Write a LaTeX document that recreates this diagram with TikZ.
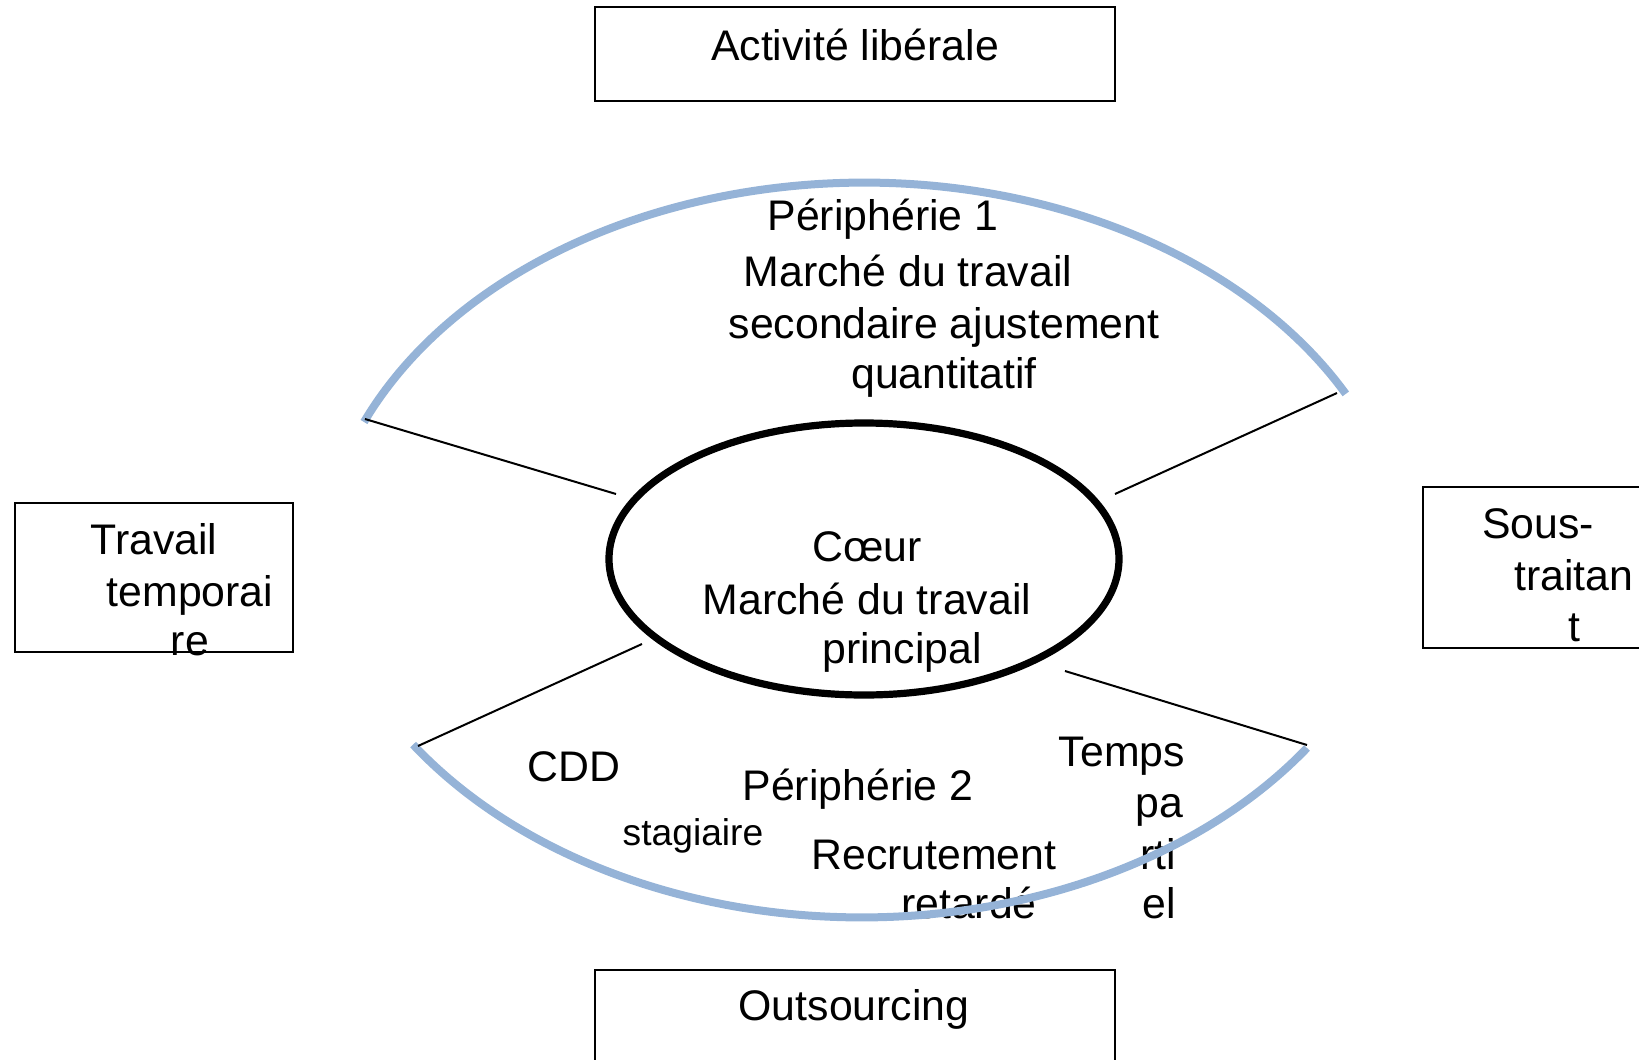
\documentclass[tikz,border=0pt]{standalone}
\usepackage{fontspec}
\setmainfont{Liberation Sans}
\usepackage{xcolor}
\usetikzlibrary{positioning,shapes.geometric}
\definecolor{ink}{HTML}{000000}
\definecolor{arcblue}{HTML}{95B3D7}

\tikzset{
  lbl/.style={inner sep=0pt, anchor=base, text=ink, font=\fontsize{21.4}{26}\selectfont},
  smalllbl/.style={lbl, font=\fontsize{18.6}{22}\selectfont},
  frame/.style={draw=ink, line width=0.85pt, inner sep=0pt},
  orbit/.style={draw=arcblue, line width=4pt},
  spoke/.style={draw=ink, line width=1pt},
}

\begin{document}
\begin{tikzpicture}[x=0.5pt, y=-0.5pt]
  \useasboundingbox (0,0) rectangle (1639,1060);

  % the four boxes
  \node[frame, minimum width=260pt, minimum height=47pt] (liberal) at (855,54) {};
  \node[frame, minimum width=139pt, minimum height=74.5pt] (interim) at (154,577.5) {};
  \node[frame, minimum width=138.5pt, minimum height=80.5pt] (soustrait) at (1561.5,567.5) {};
  \node[frame, minimum width=260pt, minimum height=55pt] (outsrc) at (855,1025) {};

  \node[lbl] (liberaltxt) at (855,60) {Activité libérale};
  \node[lbl] (outsrctxt) at (854,1020) {Outsourcing};
  \node[lbl] (interim1) at (154,554) {Travail};
  \node[lbl] (interim2) at (190,606) {temporai};
  \node[lbl] (interim3) at (190,655) {re};
  \node[lbl] (sous1) at (1538,538) {Sous-};
  \node[lbl] (sous2) at (1574,590) {traitan};
  \node[lbl] (sous3) at (1574,641) {t};

  % core
  \node[ellipse, draw=ink, line width=3.6pt, inner sep=0pt,
        minimum width=255pt, minimum height=136pt] (coeur) at (864,559) {};
  \node[lbl] (coeur1) at (867,561) {Cœur};
  \node[lbl] (coeur2) at (867,614) {Marché du travail};
  \node[lbl] (coeur3) at (902,663) {principal};

  % periphery 1
  \node[lbl] (peri1a) at (883,230) {Périphérie 1};
  \node[lbl] (peri1b) at (908,286) {Marché du travail};
  \node[lbl] (peri1c) at (944,338) {secondaire ajustement};
  \node[lbl] (peri1d) at (944,388) {quantitatif};

  % periphery 2
  \node[lbl] (cdd) at (574,781) {CDD};
  \node[lbl] (peri2) at (858,800) {Périphérie 2};
  \node[smalllbl] (stage) at (693,845) {stagiaire};
  \node[lbl] (recrut1) at (934,869) {Recrutement};
  \node[lbl] (recrut2) at (969,918) {retardé};
  \node[lbl] (partiel1) at (1122,766) {Temps};
  \node[lbl] (partiel2) at (1159,817) {pa};
  \node[lbl] (partiel3) at (1158,869) {rti};
  \node[lbl] (partiel4) at (1159,918) {el};

  % arcs
  \coordinate (upW) at (364,422);
  \coordinate (upE) at (1346,394);
  \coordinate (loE) at (1307,748);
  \coordinate (loW) at (413,744);
  \draw[orbit] (upW) arc[start angle=156.6, end angle=27.9, x radius=272.5pt, y radius=198.5pt];
  \draw[orbit] (loE) arc[start angle=-35.2, end angle=-145.4, x radius=272.5pt, y radius=200pt];

  % spokes
  \coordinate (s1a) at (365,419);  \coordinate (s1b) at (616,494);
  \coordinate (s2a) at (1115,494); \coordinate (s2b) at (1337,393);
  \coordinate (s3a) at (642,644);  \coordinate (s3b) at (418,746);
  \coordinate (s4a) at (1065,671); \coordinate (s4b) at (1307,745);
  \draw[spoke] (s1a) -- (s1b);
  \draw[spoke] (s2a) -- (s2b);
  \draw[spoke] (s3a) -- (s3b);
  \draw[spoke] (s4a) -- (s4b);
\end{tikzpicture}
\end{document}
